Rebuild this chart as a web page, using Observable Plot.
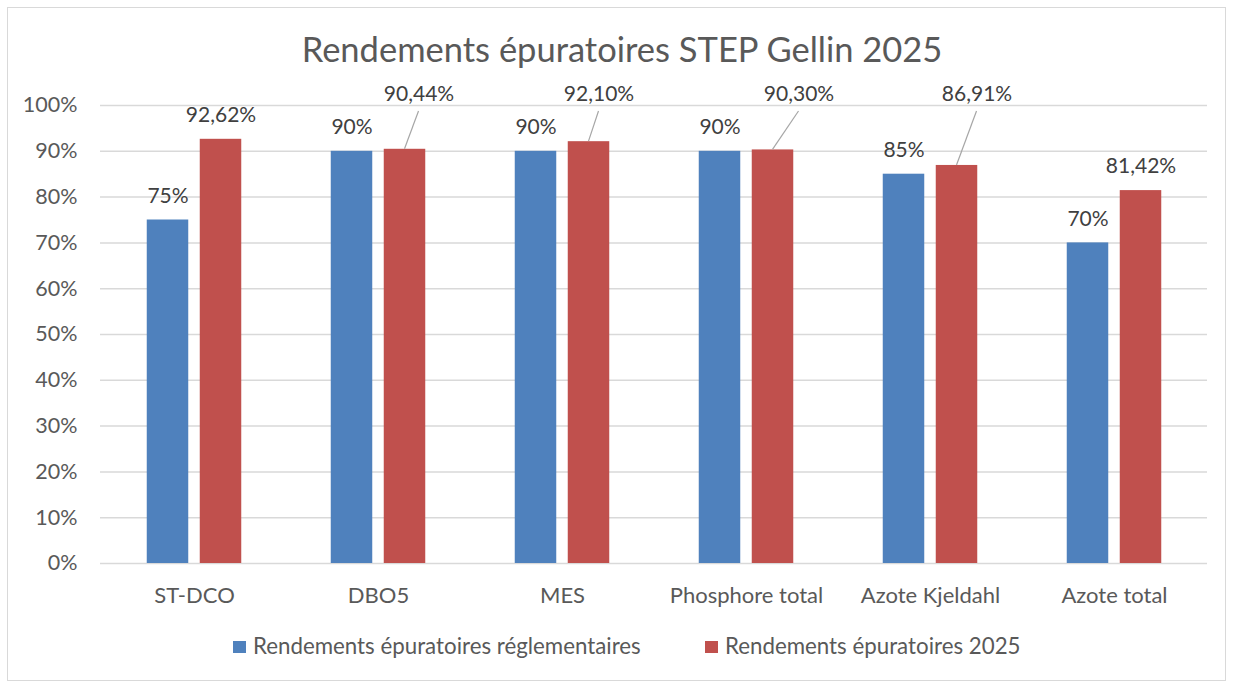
<!DOCTYPE html>
<html><head><meta charset="utf-8">
<script src="https://cdn.jsdelivr.net/npm/d3@7"></script>
<script src="https://cdn.jsdelivr.net/npm/@observablehq/plot@0.6"></script>
<style>
body{margin:0;background:#fff;font-family:Lato,sans-serif;}
#wrap{position:relative;width:1234px;height:686px;overflow:hidden;background:#fff;}
#frame{position:absolute;left:7px;top:7px;width:1219px;height:674px;border:1px solid #d9d9d9;box-sizing:border-box;}
#title{position:absolute;top:32px;left:5px;width:1234px;text-align:center;font-size:34.5px;line-height:34px;color:#595959;}
#chart{position:absolute;left:0;top:0;}
#legend{position:absolute;top:635px;left:0;width:1234px;height:24px;font-size:22.3px;line-height:22px;color:#595959;}
.item{position:absolute;top:0;white-space:nowrap;}
.sw{position:absolute;top:6px;width:13px;height:12px;}
</style>
</head><body>
<div id="wrap">
  <div id="frame"></div>
  <div id="title">Rendements épuratoires STEP Gellin 2025</div>
  <div id="chart"></div>
  <div id="legend"></div>
</div>
<script>
// ---- data ----
const categories = ["ST-DCO", "DBO5", "MES", "Phosphore total", "Azote Kjeldahl", "Azote total"];
const reglementaires = [75, 90, 90, 90, 85, 70];
const rendements2025 = [92.62, 90.44, 92.10, 90.30, 86.91, 81.42];
const seriesNames = ["Rendements épuratoires réglementaires", "Rendements épuratoires 2025"];
const yTicks = [0, 10, 20, 30, 40, 50, 60, 70, 80, 90, 100];

// ---- styles / layout ----
const colors = ["#4F81BD", "#C0504D"];
const barOff = 26.5, barW = 42;
const leaderShift = {"DBO5": 14, "MES": 10, "Phosphore total": 26, "Azote Kjeldahl": 20};

const table = categories.map((c, i) => ({cat: c, regl: reglementaires[i], r25: rendements2025[i]}));
const fmt25 = v => v.toFixed(2).replace(".", ",") + "%";
const isMoved = d => Math.abs(d.r25 - d.regl) < 5;
const normal = table.filter(d => !isMoved(d));
const moved = table.filter(isMoved);

const W = 1234, H = 620;
const band = (W - 100 - 27) / categories.length;
const inBlueL = band / 2 - barOff - barW / 2, inBlueR = band - inBlueL - barW;

function leaders(index, scales, values, dimensions) {
  const g = d3.create("svg:g");
  const sx = scales.x, sy = scales.y;
  const bw = typeof sx.bandwidth === "function" ? sx.bandwidth() : (sx.bandwidth || 0);
  for (const d of moved) {
    const cx = sx(d.cat) + bw / 2 + barOff;
    g.append("line")
      .attr("x1", cx + (leaderShift[d.cat] || 0)).attr("y1", dimensions.marginTop + 6)
      .attr("x2", cx).attr("y2", sy(d.r25))
      .attr("stroke", "#a6a6a6").attr("stroke-width", 1.2);
  }
  return g.node();
}

const lbl = {fill: "#404040", fontSize: 21};
const marks = [
  Plot.gridY(yTicks, {stroke: "#d9d9d9", strokeOpacity: 1, strokeWidth: 1.5}),
  Plot.axisY(yTicks, {tickSize: 0, tickPadding: 23, tickFormat: d => d + "%", fill: "#595959", fontSize: 21.5}),
  Plot.axisX({tickSize: 0, tickPadding: 24, fill: "#595959", fontSize: 22}),
  Plot.barY(table, {x: "cat", y: "regl", fill: colors[0], insetLeft: inBlueL, insetRight: inBlueR}),
  Plot.barY(table, {x: "cat", y: "r25", fill: colors[1], insetLeft: inBlueR, insetRight: inBlueL}),
  Plot.text(table, {x: "cat", y: "regl", text: d => d.regl + "%", dx: -barOff, dy: -24, ...lbl}),
  Plot.text(normal, {x: "cat", y: "r25", text: d => fmt25(d.r25), dx: barOff, dy: -24, ...lbl}),
  ...moved.map(d => Plot.text([d], {x: "cat", frameAnchor: "top", lineAnchor: "middle", text: e => fmt25(e.r25), dx: barOff + (leaderShift[d.cat] || 0), dy: -11, ...lbl})),
  leaders
];

const chart = Plot.plot({
  width: W, height: H,
  marginLeft: 100, marginRight: 27, marginTop: 105, marginBottom: 57,
  style: {fontFamily: "Lato, sans-serif", fontSize: "21px", color: "#595959", background: "transparent", overflow: "visible"},
  x: {domain: categories, padding: 0, label: null},
  y: {domain: [0, 100], label: null},
  marks
});
document.getElementById("chart").appendChild(chart);

// legend
const legend = document.getElementById("legend");
const legPos = [233, 705];
seriesNames.forEach((name, i) => {
  const it = document.createElement("div");
  it.className = "item";
  it.style.left = legPos[i] + "px";
  it.innerHTML = `<span class="sw" style="left:0;background:${colors[i]}"></span><span style="margin-left:20px">${name}</span>`;
  legend.appendChild(it);
});
</script>
</body></html>
